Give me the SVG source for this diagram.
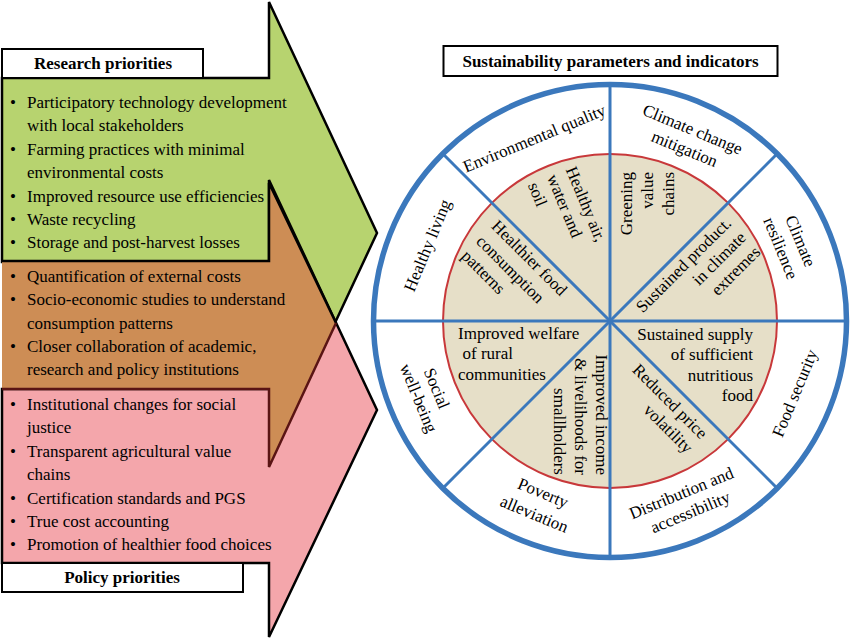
<svg xmlns="http://www.w3.org/2000/svg" width="851" height="640" viewBox="0 0 851 640">
<style>
text{font-family:"Liberation Serif","Times New Roman",serif;font-size:17px;fill:#000}
.b{font-weight:bold}
.m{text-anchor:middle}
.e{text-anchor:end}
.blk{fill:none;stroke:#000;stroke-width:2.5;stroke-linejoin:miter}
.mar{fill:none;stroke:#5a1414;stroke-width:2.5;stroke-linejoin:miter}
.spk{stroke:#3B78BC;stroke-width:3}
</style>
<rect width="851" height="640" fill="#fff"/>

<g id="research-arrow">
<polygon points="2,78 269,78 269,2 377,233 269,464 269,262 2,262" fill="#B7D36F" stroke="#000" stroke-width="2.5"/>
</g>
<g id="policy-arrow">
<polygon points="2,389 269,389 269,180 377,410 269,637 269,563 2,563" fill="#F4A6AB" stroke="#000" stroke-width="2.5"/>
</g>
<g id="shared-arrow">
<polygon points="2,261 269,261 269,183 336,323 269,467 269,389 2,389" fill="#CD8D55"/>
<polyline class="blk" points="2,261 269,261 269,183 336,323"/>
<polyline class="mar" points="336,323 269,467 269,389 2,389"/>
</g>

<g id="research-box">
<rect x="2" y="49" width="201" height="29" fill="#fff" stroke="#000" stroke-width="2"/>
<text class="b m" x="103" y="69">Research priorities</text>
</g>
<g id="policy-box">
<rect x="2" y="563" width="241" height="29" fill="#fff" stroke="#000" stroke-width="2"/>
<text class="b m" x="122" y="583">Policy priorities</text>
</g>

<g id="research-list">
<text x="10" y="108">•</text><text x="27" y="108">Participatory technology development</text>
<text x="27" y="131.4">with local stakeholders</text>
<text x="10" y="154.8">•</text><text x="27" y="154.8">Farming practices with minimal</text>
<text x="27" y="178.2">environmental costs</text>
<text x="10" y="201.6">•</text><text x="27" y="201.6">Improved resource use efficiencies</text>
<text x="10" y="225">•</text><text x="27" y="225">Waste recycling</text>
<text x="10" y="248.4">•</text><text x="27" y="248.4">Storage and post-harvest losses</text>
</g>
<g id="shared-list">
<text x="10" y="281.8">•</text><text x="27" y="281.8">Quantification of external costs</text>
<text x="10" y="305.2">•</text><text x="27" y="305.2">Socio-economic studies to understand</text>
<text x="27" y="328.6">consumption patterns</text>
<text x="10" y="352">•</text><text x="27" y="352">Closer collaboration of academic,</text>
<text x="27" y="375.4">research and policy institutions</text>
</g>
<g id="policy-list">
<text x="10" y="410">•</text><text x="27" y="410">Institutional changes for social</text>
<text x="27" y="433.4">justice</text>
<text x="10" y="456.8">•</text><text x="27" y="456.8">Transparent agricultural value</text>
<text x="27" y="480.2">chains</text>
<text x="10" y="503.6">•</text><text x="27" y="503.6">Certification standards and PGS</text>
<text x="10" y="527">•</text><text x="27" y="527">True cost accounting</text>
<text x="10" y="550.4">•</text><text x="27" y="550.4">Promotion of healthier food choices</text>
</g>

<g id="title">
<rect x="443.5" y="46" width="334" height="30" fill="#fff" stroke="#000" stroke-width="2"/>
<text class="b m" x="610.5" y="67">Sustainability parameters and indicators</text>
</g>

<g id="wheel">
<circle cx="610" cy="321" r="236.5" fill="#fff" stroke="#3B78BC" stroke-width="5.5"/>
<circle cx="610" cy="321" r="167" fill="#E6DFC8" stroke="#C8383A" stroke-width="2"/>
</g>

<g id="spokes">
<line class="spk" x1="373.5" y1="321" x2="846.5" y2="321"/>
<line class="spk" x1="610" y1="84.5" x2="610" y2="557.5"/>
<line class="spk" x1="442.8" y1="153.8" x2="777.2" y2="488.2"/>
<line class="spk" x1="777.2" y1="153.8" x2="442.8" y2="488.2"/>
</g>

<g id="environmental-quality" transform="translate(610,321) rotate(-22.5)"><text class="m" x="0" y="-192">Environmental quality</text></g>
<g id="climate-change-mitigation" transform="translate(610,321) rotate(22.5)"><text class="m" x="3" y="-203">Climate change</text><text class="m" x="3" y="-182">mitigation</text></g>
<g id="climate-resilience" transform="translate(610,321) rotate(67.5)"><text class="m" x="-1" y="-201">Climate</text><text class="m" x="-2" y="-180">resilience</text></g>
<g id="healthy-living" transform="translate(610,321) rotate(-67.5)"><text class="m" x="0" y="-192">Healthy living</text></g>
<g id="food-security" transform="translate(610,321) rotate(-67.5)"><text class="m" x="4" y="204">Food security</text></g>
<g id="distribution" transform="translate(610,321) rotate(-22.5)"><text class="m" x="0" y="192">Distribution and</text><text class="m" x="1" y="213">accessibility</text></g>
<g id="poverty-alleviation" transform="translate(610,321) rotate(22.5)"><text class="m" x="4" y="190">Poverty</text><text class="m" x="4" y="213">alleviation</text></g>
<g id="social-well-being" transform="translate(610,321) rotate(67.5)"><text class="m" x="-4" y="191.5">Social</text><text class="m" x="-2" y="212">well-being</text></g>

<g id="healthy-air" transform="translate(610,321) rotate(67.5)"><text x="-157" y="-17">Healthy air,</text><text x="-157" y="3.5">water and</text><text x="-157" y="24">soil</text></g>
<g id="greening" transform="translate(610,321) rotate(-90)"><text class="e" x="149" y="22">Greening</text><text class="e" x="149" y="43">value</text><text class="e" x="149" y="64">chains</text></g>
<g id="sustained-product" transform="translate(610,321) rotate(-45)"><text class="e" x="155" y="18">Sustained product.</text><text class="e" x="155" y="38.5">in climate</text><text class="e" x="155" y="59">extremes</text></g>
<g id="healthier-food" transform="translate(610,321) rotate(45)"><text x="-151" y="18">Healthier food</text><text x="-151" y="39.5">consumption</text><text x="-151" y="60.5">patterns</text></g>
<g id="improved-welfare"><text x="458" y="338.5">Improved welfare</text><text x="462.5" y="359">of rural</text><text x="458" y="379.5">communities</text></g>
<g id="sustained-supply"><text class="e" x="753" y="339.5">Sustained supply</text><text class="e" x="753" y="360">of sufficient</text><text class="e" x="753" y="380.5">nutritious</text><text class="e" x="753" y="401">food</text></g>
<g id="improved-income" transform="translate(610,321) rotate(90)"><text class="e" x="154" y="14.5">Improved income</text><text class="e" x="154" y="35.5">&amp; livelihoods for</text><text class="e" x="154" y="56.5">smallholders</text></g>
<g id="reduced-price" transform="translate(610,321) rotate(45)"><text class="e" x="148" y="20">Reduced price</text><text class="e" x="148" y="40.5">volatility</text></g>
</svg>
